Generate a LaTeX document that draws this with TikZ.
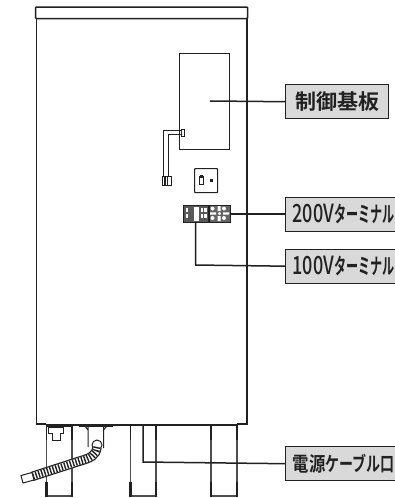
\documentclass[tikz,border=0pt]{standalone}
\usepackage{fontspec}
\setmainfont{Liberation Sans}
\newfontfamily\jpw{Noto Sans CJK JP Bold}
\newfontfamily\jpk[FakeStretch=0.82]{Noto Sans CJK JP Bold}
\newfontfamily\jpn[FakeStretch=0.55]{Noto Sans CJK JP Bold}
\newfontfamily\jpc[FakeStretch=0.70]{Noto Sans CJK JP Bold}
\newfontfamily\lat[FakeStretch=0.72]{Noto Sans CJK JP Medium}
\definecolor{ink}{gray}{0.13}
\definecolor{lab}{gray}{0.85}
\tikzset{
  x=1pt,y=-1pt,
  outl/.style={draw=ink,line width=1.5pt,line join=miter},
  legline/.style={draw=ink!80,line width=1.4pt},
  thin part/.style={draw=ink,line width=1pt},
  bold part/.style={draw=ink,line width=2pt},
  labelbox/.style={draw=ink,line width=1.4pt,fill=lab,anchor=north west,inner sep=0pt,minimum height=34pt,text=ink},
  leader/.style={draw=ink,line width=1.5pt},
  part/.style={draw=ink,line width=1.2pt,fill=white,anchor=north west,inner sep=0pt},
}
\newcommand{\voltlabel}[1]{\hspace*{4.5pt}\fontsize{25}{25}\lat #1\fontsize{22}{22}\jpn ターミナル}
\begin{document}
\begin{tikzpicture}
\useasboundingbox (0,0) rectangle (395,498);
\clip (0,0) rectangle (395,498);
\fill[white] (0,0) rectangle (395,498);
% legs
\foreach \a/\b in {46.5/72,130.5/156,211/237}{
  \draw[legline] (\a,425) -- (\a,496) -- (\b,496) -- (\b,425);
  \draw[draw=ink,line width=2.4pt] (\a,482) -- (\a,497);
  \draw[draw=ink,line width=1.8pt] (\b,482) -- (\b,497);
  \draw[draw=ink,line width=1.8pt] (\a,425) -- (\a,440) (\b,425) -- (\b,440);
}
% cabinet
\draw[outl] (36.3,18) -- (36.3,424) -- (46,424) (46,425) -- (237,425) (237,424) -- (247,424) -- (247,18);
\draw[outl,fill=white,rounded corners=0.8pt] (35.6,7) rectangle (247.6,18.5);
% bottom fittings
\draw[bold part] (46,425.5) -- (72,425.5) (79,426) -- (113,426);
\draw[thin part,fill=white] (48,427) -- (63,427) -- (63,433) -- (60,433) -- (60,440) -- (52,440) -- (52,433) -- (48,433) -- cycle;
\draw[thin part] (88,427) -- (88,447) (103.5,427) -- (103.5,448) (85,426) -- (88,430) (107,426) -- (103.5,430);
% hose
\coordinate (hoseTop) at (97,447);
\coordinate (hoseEnd) at (32,476.5);
\draw[thin part,fill=white] (97,445) circle (5);
\draw[draw=ink,line width=9.5pt] (hoseTop) .. controls (96,456) and (90,458) .. (80,461) -- (hoseEnd);
\draw[draw=white,line width=7pt] (hoseTop) .. controls (96,456) and (90,458) .. (80,461) -- (hoseEnd);
\draw[draw=ink,line width=7pt,dash pattern=on 1.4pt off 1.6pt] (hoseTop) .. controls (96,456) and (90,458) .. (80,461) -- (hoseEnd);
\draw[thin part,fill=white] (21,475.5) -- (32,472.5) -- (34,480) -- (23,483) -- cycle;
% board
\node[part,minimum width=50pt,minimum height=96pt] (board) at (179,53) {};
\coordinate (boardHit) at (210,101);
% switch box
\node[part,rounded corners=0.8pt,minimum width=23pt,minimum height=24pt] (switchbox) at (194,168) {};
\draw[thin part,fill=white] (199.5,176) rectangle (203,184);
\fill[ink] (199.5,174.5) rectangle (203,178);
\fill[ink] (209.5,178.5) rectangle (212.5,181.5);
% wires + connectors
\node[part,minimum width=3pt,minimum height=7pt,line width=1.4pt] (conn) at (181,129) {};
\node[part,minimum width=9.5pt,minimum height=8.5pt] (plug) at (161.5,176) {};
\draw[thin part] (conn.west |- 0,130) -- (163.5,130) -- (163.5,176);
\draw[thin part] (conn.west |- 0,134) -- (168.5,134) -- (168.5,176);
\draw[draw=ink,line width=1.5pt] (165.2,176) -- (165.2,184.5) (167.4,176) -- (167.4,184.5);
% terminals
\node[part,fill=ink!75,minimum width=25pt,minimum height=17pt] (term100) at (183,205) {};
\node[part,fill=ink!70,minimum width=21pt,minimum height=17pt] (term200) at (209,205) {};
\fill[white] (194,207) rectangle (199,221);
\foreach \x/\y in {185.5/208,185.5/214,200.5/208,200.5/214,204/208,204/214}{\fill[white] (\x,\y) rectangle ++(2.5,3.5);}
\foreach \x/\y in {212.5/208.5,224/208.5,212.5/218,224/218}{\fill[white] (\x,\y) circle (2);}
\fill[white] (219.5,213.5) circle (1.6);
\fill[white] (217.5,206) rectangle (220.5,211) (217.5,216) rectangle (220.5,221) (210,212.3) rectangle (216,214.5) (223,212.3) rectangle (229,214.5);
% labels
\node[labelbox,minimum width=103pt] (lbBoard) at (285,84) {\fontsize{21}{21}\jpw 制御基板};
\node[labelbox,minimum width=130pt,text width=125pt,align=left] (lb200) at (285,196.5) {\voltlabel{200V}};
\node[labelbox,minimum width=130pt,text width=125pt,align=left] (lb100) at (285,248.5) {\voltlabel{100V}};
\node[labelbox,minimum width=130pt,text width=125pt,align=left] (lbCable) at (285,446) {\hspace*{4.5pt}\fontsize{20}{20}\jpk 電源\jpc ケーブル口};
% leaders
\draw[leader] (boardHit) -- (lbBoard.west);
\draw[leader] (term200.east |- lb200.west) -- (lb200.west);
\draw[leader] (term100.south -| 195.5,0) -- (195.5,265) -- (lb100.west);
\coordinate (cableHit) at (143,425);
\draw[leader] (cableHit) -- (143,462) -- (lbCable.west);
\end{tikzpicture}
\end{document}
